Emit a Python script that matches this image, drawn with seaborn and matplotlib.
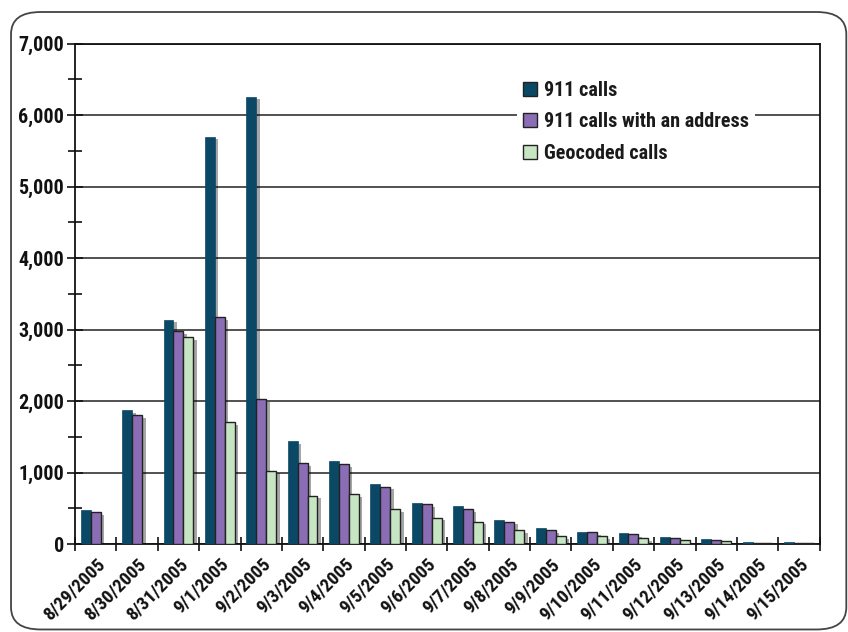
import matplotlib
matplotlib.use("Agg")
import matplotlib.pyplot as plt
import matplotlib.patheffects as pe
from matplotlib import font_manager as fm
from matplotlib.patches import FancyBboxPatch
from matplotlib.ticker import FuncFormatter, MultipleLocator
import numpy as np
import pandas as pd
import seaborn as sns

dates = ["8/29/2005", "8/30/2005", "8/31/2005", "9/1/2005", "9/2/2005", "9/3/2005",
         "9/4/2005", "9/5/2005", "9/6/2005", "9/7/2005", "9/8/2005", "9/9/2005",
         "9/10/2005", "9/11/2005", "9/12/2005", "9/13/2005", "9/14/2005", "9/15/2005"]
calls = [480, 1870, 3140, 5700, 6260, 1440, 1160, 835, 580, 535, 340, 225,
         170, 155, 100, 72, 25, 25]
calls_addr = [450, 1800, 2980, 3170, 2025, 1130, 1115, 805, 560, 485, 315, 200,
              170, 140, 88, 62, 20, 20]
geocoded = [0, 0, 2890, 1705, 1030, 680, 695, 485, 370, 315, 200, 115,
            115, 88, 58, 50, 10, 10]
series_names = ["911 calls", "911 calls with an address", "Geocoded calls"]
colors = ["#0b4866", "#8a6db5", "#c6e5c2"]

df = pd.DataFrame({
    "date": dates * 3,
    "value": calls + calls_addr + geocoded,
    "series": [series_names[0]] * len(dates) + [series_names[1]] * len(dates)
              + [series_names[2]] * len(dates),
})

sns.set_theme(style="white")
available = {f.name for f in fm.fontManager.ttflist}
cond = [n for n in ["Liberation Sans Narrow", "Roboto Condensed", "DejaVu Sans Condensed",
                    "Open Sans Condensed"] if n in available]
if cond:
    plt.rcParams["font.family"] = [cond[0], "DejaVu Sans"]
    weight = "bold"
else:
    plt.rcParams["font.family"] = ["Roboto", "DejaVu Sans"]
    weight = "medium"

fig = plt.figure(figsize=(8.48, 6.32), dpi=100)
ax = fig.add_axes([0.0885, 0.139, 0.878, 0.792])

border = FancyBboxPatch((0.013, 0.004), 0.985, 0.977,
                        boxstyle="round,pad=0,rounding_size=0.035",
                        transform=fig.transFigure, fill=False,
                        edgecolor="#444444", linewidth=1.3, zorder=0)
fig.patches.append(border)

sns.barplot(data=df, x="date", y="value", hue="series", order=dates,
            hue_order=series_names, palette=colors, width=0.72,
            saturation=1, ax=ax, legend=True, zorder=3)

shadow = [pe.withSimplePatchShadow(offset=(2.5, -2), shadow_rgbFace="black", alpha=0.35)]
for i, cont in enumerate(ax.containers):
    for p in cont.patches:
        if i == 0:
            p.set_edgecolor(colors[0])
            p.set_linewidth(0.5)
        else:
            p.set_edgecolor("#222222")
            p.set_linewidth(1.0)
        if p.get_height() > 0:
            p.set_path_effects(shadow)

ax.set_ylim(0, 7000)
ax.set_xlim(-0.5, len(dates) - 0.5)
ax.yaxis.set_major_locator(MultipleLocator(1000))
ax.yaxis.set_minor_locator(MultipleLocator(500))
ax.yaxis.set_major_formatter(FuncFormatter(lambda v, _: f"{int(v):,}"))
ax.grid(axis="y", which="major", color="#222222", linewidth=1.1, zorder=0)
ax.set_axisbelow(True)

for s in ["left", "bottom", "right", "top"]:
    ax.spines[s].set_visible(True)
    ax.spines[s].set_color("#111111")
    ax.spines[s].set_linewidth(1.3)

ax.tick_params(axis="y", which="major", direction="inout", length=12, width=1.2,
               color="#111111", left=True, labelsize=14.5, pad=2)
ax.tick_params(axis="y", which="minor", direction="inout", length=10, width=1.2,
               color="#111111", left=True)

ax.set_xticks(np.arange(len(dates)))
ax.set_xticklabels(dates, rotation=45, ha="right", rotation_mode="anchor",
                   fontsize=13.5)
ax.tick_params(axis="x", which="major", length=0, pad=8)
ax.set_xticks(np.arange(len(dates) + 1) - 0.5, minor=True)
ax.tick_params(axis="x", which="minor", direction="inout", length=10, width=1.2,
               color="#111111", bottom=True)
for lab in ax.get_xticklabels() + ax.get_yticklabels():
    lab.set_fontweight(weight)
    lab.set_color("#111111")

ax.set_xlabel("")
ax.set_ylabel("")

leg = ax.legend(loc="upper left", bbox_to_anchor=(0.58, 0.958), frameon=True,
                facecolor="white", edgecolor="none", framealpha=1,
                fontsize=14.5, handlelength=0.7, handleheight=0.7,
                handletextpad=0.35, labelspacing=0.62, borderpad=0.3)
for h in leg.legend_handles:
    h.set_edgecolor("#222222")
    h.set_linewidth(1.0)
    h.set_path_effects([])
for t in leg.get_texts():
    t.set_fontweight(weight)
    t.set_color("#1a1a1a")
leg.set_zorder(5)

fig.savefig("out.png", dpi=100)
